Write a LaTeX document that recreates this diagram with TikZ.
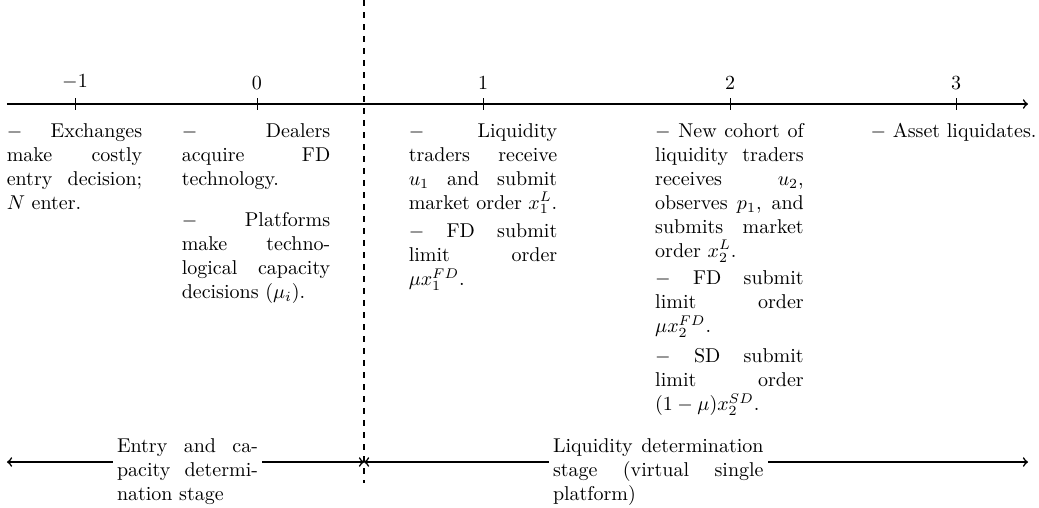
\documentclass[tikz,border=0pt]{standalone}
\usepackage{amsmath,amssymb}
\usepackage{tikz}
\usetikzlibrary{arrows}

\tikzset{
	event/.style = {anchor=north, inner sep=0pt, align=justify, text width=2.61cm},
	stage/.style = {anchor=north, fill=white, inner xsep=2pt, inner ysep=0pt, align=justify},
}

\begin{document}
\begin{tikzpicture}[>=to]
	\useasboundingbox (0,-7.082) rectangle (18.258,1.828);
	% time line
	\coordinate (start) at (0.123,0);
	\coordinate (end) at (18.065,0);
	\draw [thick,->] (start) -- (end);
	\foreach \x/\lab/\nm in {1.318/-1/tm, 4.516/0/t0, 8.488/1/t1, 12.828/2/t2, 16.80/3/t3}
	{
		\draw [thin] (\x,0.1) -- (\x,-0.1);
		\node [above] (\nm) at (\x,0.13) {$\lab$};
	}
	% split between the two stages
	\coordinate (cuttop) at (6.397,1.828);
	\coordinate (cutbot) at (6.397,-6.66);
	\draw [thick,dashed] (cuttop) -- (cutbot);
	% events
	\node [event, text width=2.38cm] (em1) at (1.309,-0.329) {$-$ Exchanges\linebreak make costly\linebreak entry decision;\linebreak $N$ enter.};
	\node [event] (e0a) at (4.499,-0.329) {$-$ Dealers\linebreak acquire FD\linebreak technology.};
	\node [event] (e0b) at (4.499,-1.90) {$-$ Platforms\linebreak make techno-\linebreak logical capacity\linebreak decisions ($\mu_i$).};
	\node [event] (e1a) at (8.488,-0.329) {$-$ Liquidity\linebreak traders receive\linebreak $u_1$ and submit\linebreak market order $x_1^L$.};
	\node [event] (e1b) at (8.488,-2.097) {$-$ FD submit\linebreak limit order\linebreak $\mu x_1^{FD}$.};
	\node [event] (e2a) at (12.819,-0.329) {$-$ New cohort of\linebreak liquidity traders\linebreak receives $u_2$,\linebreak observes $p_1$, and\linebreak submits market\linebreak order $x_2^L$.};
	\node [event] (e2b) at (12.819,-2.929) {$-$ FD submit\linebreak limit order\linebreak $\mu x_2^{FD}$.};
	\node [event] (e2c) at (12.819,-4.293) {$-$ SD submit\linebreak limit order\linebreak $(1-\mu)x_2^{SD}$.};
	\node [anchor=north, inner sep=0pt] (e3) at (16.756,-0.329) {$-$ Asset liquidates.};
	% stages
	\coordinate (bl) at (0.123,-6.291);
	\coordinate (bm) at (6.397,-6.291);
	\coordinate (br) at (18.065,-6.291);
	\draw [thick,<->] (bl) -- (bm);
	\draw [thick,<->] (bm) -- (br);
	\node [stage, text width=2.478cm] (entry) at (3.295,-5.869) {Entry and capacity determination stage};
	\node [stage, text width=3.7cm] (liq) at (11.568,-5.869) {Liquidity determination stage (virtual single platform)};
\end{tikzpicture}
\end{document}
